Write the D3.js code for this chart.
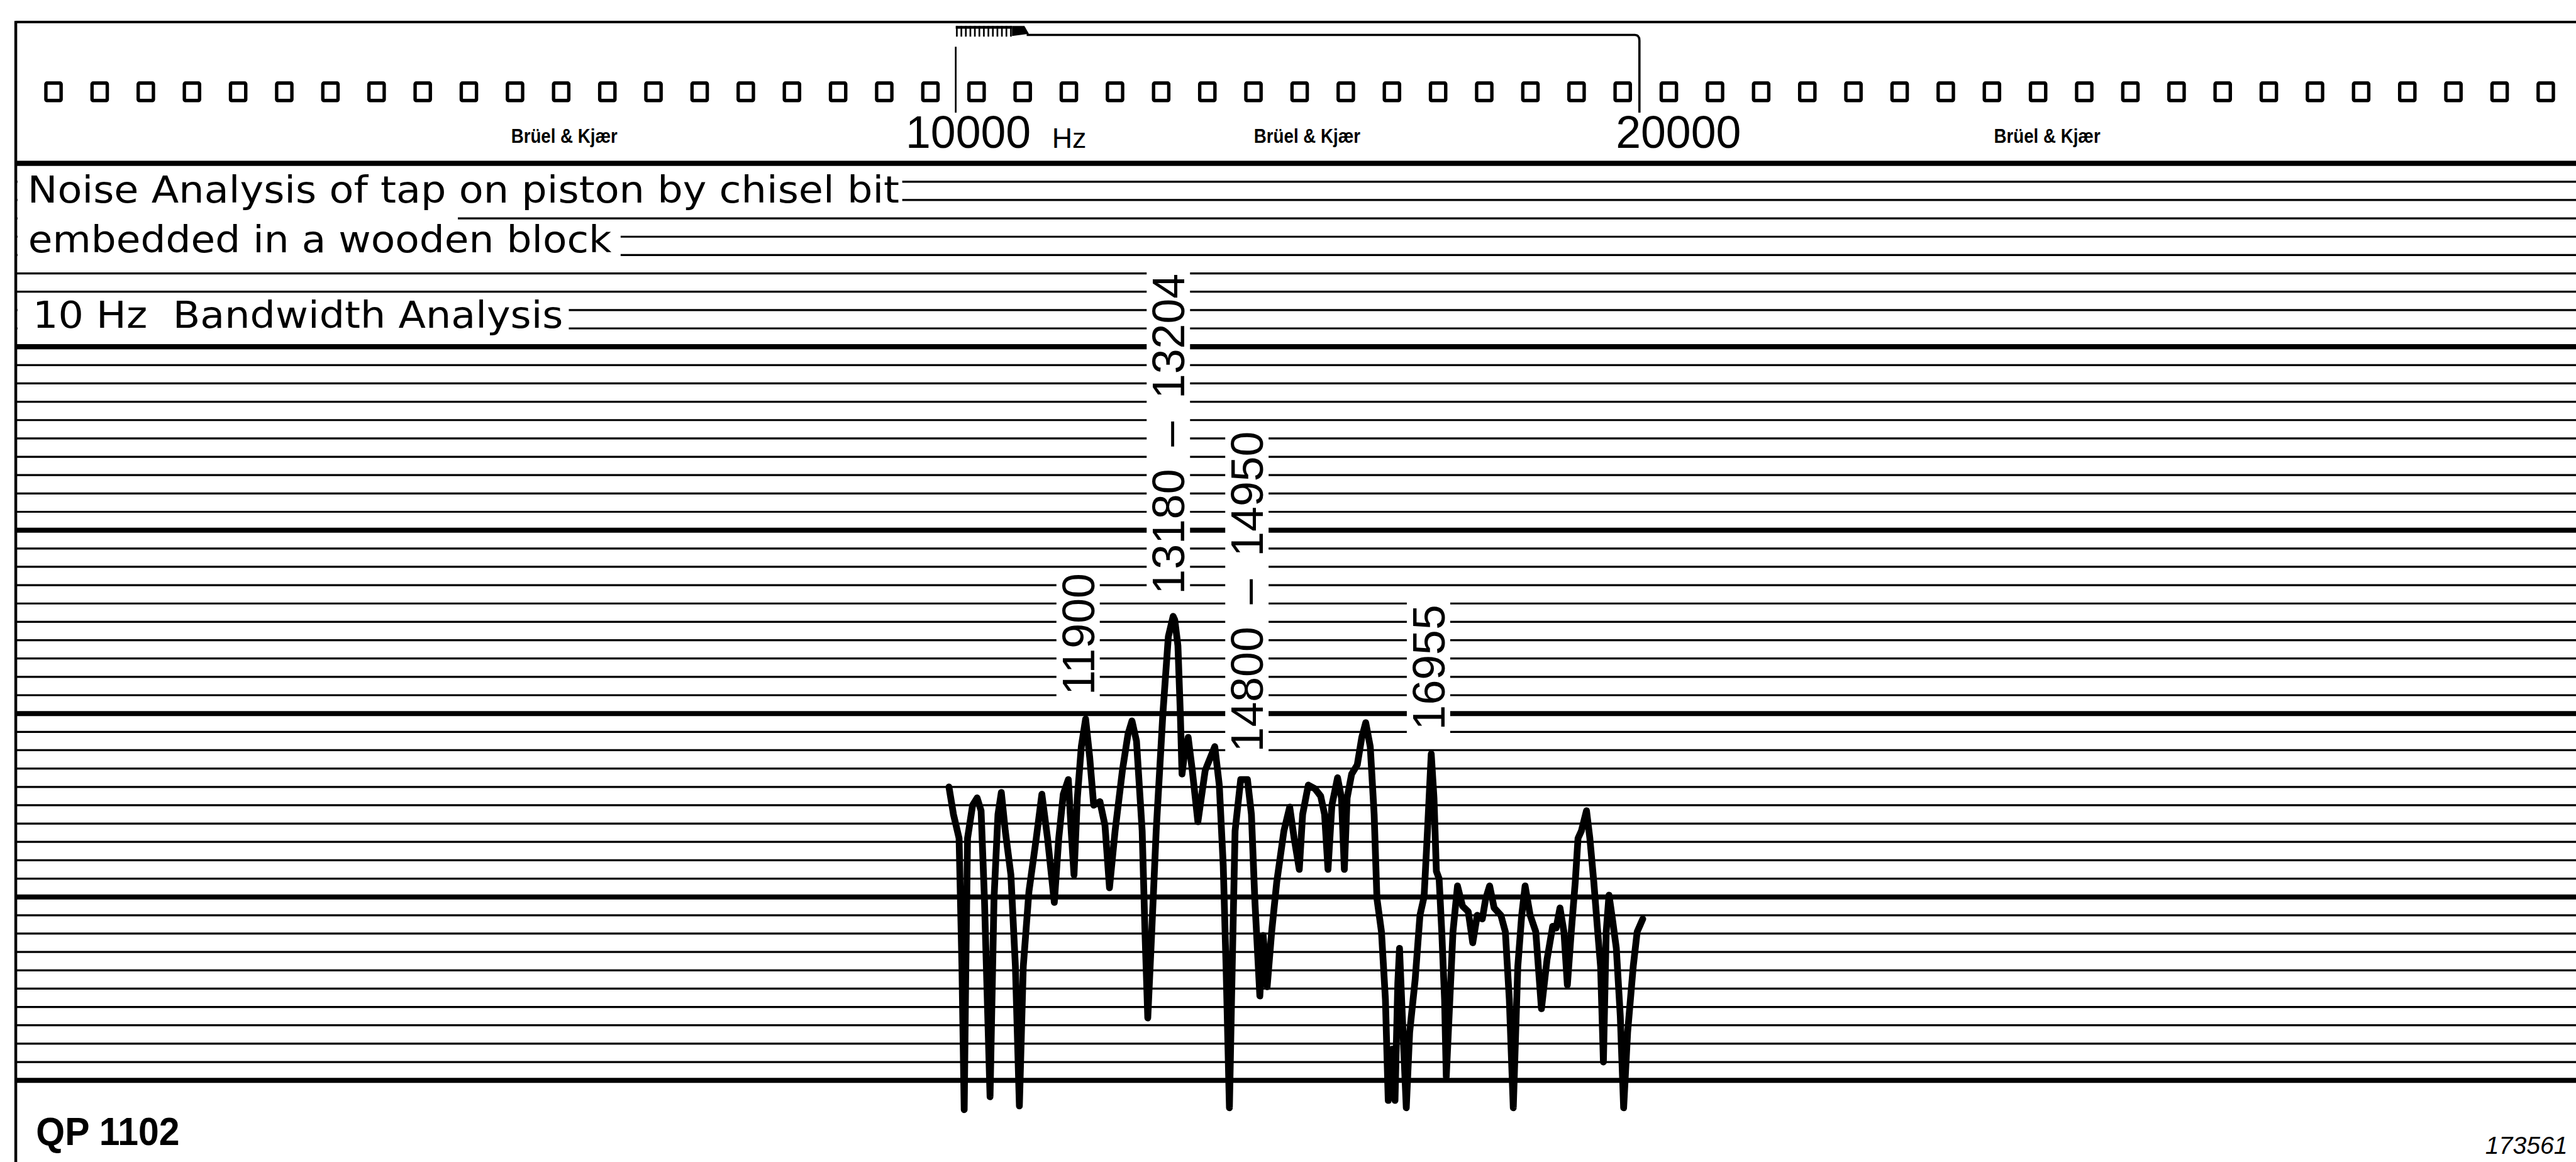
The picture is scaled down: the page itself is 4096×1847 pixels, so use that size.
<!DOCTYPE html>
<html>
<head>
<meta charset="utf-8">
<script src="https://cdn.jsdelivr.net/npm/d3@7"></script>
<style>
  html, body { margin: 0; padding: 0; background: #fff; overflow: hidden; }
  svg { display: block; }
</style>
</head>
<body>
<svg id="chart"></svg>
<script>
// Recorded spectrum: frequency (Hz) and level (dB above the bottom reference line)
const freqHz = [9901, 9967, 10049, 10091, 10124, 10148, 10173, 10247, 10313, 10371,
  10420, 10502, 10560, 10618, 10667, 10725, 10807, 10873, 10931, 10988,
  11071, 11178, 11260, 11343, 11442, 11507, 11573, 11647, 11689, 11730,
  11779, 11837, 11900, 11960, 12018, 12109, 12183, 12249, 12331, 12438,
  12521, 12578, 12644, 12727, 12768, 12809, 12867, 12932, 13030, 13110,
  13180, 13204, 13250, 13285, 13310, 13340, 13400, 13460, 13542, 13649,
  13789, 13855, 13913, 13954, 14003, 14044, 14086, 14168, 14267, 14325,
  14374, 14448, 14497, 14555, 14621, 14695, 14800, 14885, 14950, 15025,
  15074, 15157, 15255, 15338, 15395, 15445, 15502, 15585, 15642, 15684,
  15725, 15791, 15873, 15939, 15997, 16063, 16120, 16161, 16227, 16285,
  16326, 16384, 16425, 16466, 16491, 16532, 16590, 16639, 16720, 16790,
  16850, 16900, 16955, 16995, 17030, 17070, 17109, 17150, 17175, 17216,
  17273, 17339, 17413, 17496, 17562, 17628, 17702, 17751, 17809, 17875,
  17974, 18039, 18097, 18155, 18221, 18278, 18328, 18402, 18484, 18567,
  18649, 18731, 18781, 18838, 18896, 18946, 19003, 19061, 19102, 19151,
  19226, 19275, 19333, 19390, 19432, 19473, 19514, 19555, 19605, 19662,
  19720, 19769, 19827, 19909, 19967, 20049];

const levelDb = [16.0, 14.5, 13.2, 6.2, -1.6, 6.2, 13.2, 15.0, 15.4, 14.7,
  9.9, -0.9, 9.9, 14.5, 15.7, 13.6, 11.2, 6.2, -1.4, 6.2,
  10.3, 13.2, 15.6, 13.2, 9.7, 13.2, 15.6, 16.4, 13.6, 11.2,
  15.4, 18.2, 19.7, 17.6, 15.0, 15.2, 13.9, 10.5, 13.6, 16.9,
  18.9, 19.6, 18.5, 13.6, 8.1, 3.4, 8.1, 13.6, 20.0, 24.2,
  25.3, 25.1, 23.7, 20.0, 16.7, 17.6, 18.7, 16.9, 14.1, 16.9,
  18.2, 16.1, 11.7, 6.2, -1.5, 6.2, 13.6, 16.4, 16.4, 14.5,
  9.9, 4.6, 7.9, 5.1, 8.1, 10.8, 13.6, 14.9, 13.2, 11.5,
  14.5, 16.1, 15.9, 15.5, 14.5, 11.5, 15.0, 16.5, 15.4, 11.5,
  15.4, 16.7, 17.2, 18.7, 19.5, 18.2, 14.5, 9.9, 8.1, 4.4,
  -1.1, 1.7, -1.1, 5.3, 7.2, 3.5, -1.5, 2.6, 5.5, 9.0,
  10.0, 13.6, 17.8, 15.4, 11.4, 11.0, 8.1, 4.4, 0.2, 3.5,
  8.1, 10.6, 9.5, 9.2, 7.5, 9.0, 8.8, 9.9, 10.6, 9.4,
  9.0, 8.1, 4.4, -1.5, 6.2, 9.0, 10.6, 9.0, 8.1, 3.9,
  6.6, 8.4, 8.3, 9.4, 8.1, 5.2, 8.1, 10.8, 13.2, 13.6,
  14.7, 13.2, 10.8, 8.1, 6.2, 1.0, 8.1, 10.1, 8.8, 7.2,
  3.5, -1.5, 2.6, 6.2, 8.1, 8.8];

// Chart-paper level lines (1 dB apart, heavy every 10 dB)
const gridLevels = d3.range(0, 51);

// Frequency scale marks printed in the header
const tickFreqs = [10000, 20000];
const tickLabels = ["10000", "20000"];
const unitLabel = "Hz";

// Hand-written notes
const titleLines = [
  "Noise Analysis of tap on piston by chisel bit",
  "embedded in a wooden block",
  "10 Hz  Bandwidth Analysis"
];

// Peak annotations: text, frequency the column sits at, level its foot sits at
const peakLabels = ["11900", "13180 – 13204", "14800 – 14950", "16955"];
const labelFreq = [11790, 13110, 14259, 16915];
const labelLevel = [21.0, 26.5, 17.9, 19.1];

const brandLabel = "Brüel & Kjær";
const paperCode = "QP 1102";
const serialNo = "173561";

// ---------------------------------------------------------------------------
const W = 4574, H = 2063;
const LEFT = 28;

const svg = d3.select("#chart")
  .attr("width", 4096).attr("height", 1847)
  .attr("viewBox", `0 0 ${W} ${H}`)
  .attr("preserveAspectRatio", "none");

svg.append("rect").attr("width", W).attr("height", H).attr("fill", "#fff");

const x = d3.scaleLinear().domain([10000, 20000]).range([1697, 2911]);
const y = d3.scaleLinear().domain([0, 50]).range([1918, 290]);

// Level lines
svg.append("g").selectAll("line").data(gridLevels).join("line")
  .attr("x1", LEFT).attr("x2", W)
  .attr("y1", d => y(d)).attr("y2", d => y(d))
  .attr("stroke", "#000")
  .attr("stroke-width", d => d % 10 === 0 ? 9 : 3.6);

// Top edge of the paper
svg.append("line").attr("x1", LEFT).attr("x2", W).attr("y1", 39).attr("y2", 39)
  .attr("stroke", "#000").attr("stroke-width", 4.5);

// Sprocket holes
const holePitch = 81.95, holeStart = 95;
svg.append("g").selectAll("rect").data(d3.range(0, 55)).join("rect")
  .attr("x", d => holeStart + d * holePitch - 13.5)
  .attr("y", 147.5)
  .attr("width", 27).attr("height", 31)
  .attr("rx", 2)
  .attr("fill", "#fff").attr("stroke", "#000").attr("stroke-width", 6);

// Brand imprint
[1002, 2321, 3635].forEach(cx => {
  svg.append("text")
    .attr("x", cx - 94.5).attr("y", 253)
    .attr("font-family", "'Liberation Sans', Arial, sans-serif")
    .attr("font-weight", "bold").attr("font-size", 35)
    .attr("textLength", 189).attr("lengthAdjust", "spacingAndGlyphs")
    .text(brandLabel);
});

// Frequency marks: comb marker, bracket and vertical ticks
const mk = svg.append("g").attr("stroke", "#000").attr("fill", "none");
const x10 = x(tickFreqs[0]), x20 = x(tickFreqs[1]);
mk.append("rect").attr("x", x10).attr("y", 46).attr("width", 100).attr("height", 5)
  .attr("fill", "#000").attr("stroke", "none");
d3.range(0, 13).forEach(i => {
  mk.append("line").attr("x1", x10 + 2 + i * 8).attr("x2", x10 + 2 + i * 8)
    .attr("y1", 46).attr("y2", 65).attr("stroke-width", 3);
});
mk.append("path")
  .attr("d", `M${x10 + 100},46 L${x10 + 122},46 L${x10 + 130},60 L${x10 + 100},64 Z`)
  .attr("fill", "#000").attr("stroke", "none");
mk.append("path")
  .attr("d", `M${x10 + 126},62 H${x20 - 8} Q${x20},62 ${x20},72 V200`)
  .attr("stroke-width", 4);
mk.append("line").attr("x1", x10).attr("x2", x10).attr("y1", 83).attr("y2", 200)
  .attr("stroke-width", 3);

const tickDx = [-89, -42];
tickFreqs.forEach((f, i) => {
  svg.append("text")
    .attr("x", x(f) + tickDx[i]).attr("y", 262)
    .attr("font-family", "'Liberation Sans', Arial, sans-serif")
    .attr("font-size", 80)
    .text(tickLabels[i]);
});
svg.append("text")
  .attr("x", x10 + 171).attr("y", 263)
  .attr("font-family", "'Liberation Sans', Arial, sans-serif")
  .attr("font-size", 50)
  .text(unitLabel);

// Paper cleared behind the hand-written notes
const knock = svg.append("g").attr("fill", "#fff");
[[LEFT + 3, 306, 1602, 372], [LEFT + 3, 378, 813, 397],
 [LEFT + 3, 402, 1102, 466], [LEFT + 3, 530, 1010, 598]].forEach(([x0, y0, x1, y1]) => {
  knock.append("rect").attr("x", x0).attr("y", y0).attr("width", x1 - x0).attr("height", y1 - y0);
});

const titleX = [49, 50, 58], titleY = [360, 448, 582], titleLen = [1548, 1036, 942];
titleLines.forEach((t, i) => {
  svg.append("text")
    .attr("x", titleX[i]).attr("y", titleY[i])
    .attr("font-family", "'DejaVu Sans', 'Liberation Sans', sans-serif")
    .attr("font-size", 66)
    .attr("textLength", titleLen[i]).attr("lengthAdjust", "spacingAndGlyphs")
    .style("white-space", "pre")
    .text(t);
});

// Vertical peak annotations
const capH = 57;
peakLabels.forEach((t, i) => {
  const g = svg.append("g")
    .attr("transform", `translate(${x(labelFreq[i]) + capH / 2},${y(labelLevel[i])}) rotate(-90)`);
  const bg = g.append("rect").attr("fill", "#fff");
  const txt = g.append("text")
    .attr("x", 0).attr("y", 0)
    .attr("font-family", "'Liberation Sans', Arial, sans-serif")
    .attr("font-size", 80)
    .text(t.replace(" – ", "\u2002–\u2002"));
  const len = txt.node().getComputedTextLength();
  bg.attr("x", -8).attr("y", -capH - 10).attr("width", len + 16).attr("height", capH + 20);
});

// Left edge of the paper
svg.append("line").attr("x1", LEFT).attr("x2", LEFT).attr("y1", 37).attr("y2", H)
  .attr("stroke", "#000").attr("stroke-width", 5);

// Recorded trace
const trace = d3.line()
  .x(d => x(d[0]))
  .y(d => y(d[1]))
  .curve(d3.curveLinear);
svg.append("path")
  .datum(d3.zip(freqHz, levelDb))
  .attr("d", trace)
  .attr("fill", "none")
  .attr("stroke", "#000")
  .attr("stroke-width", 12)
  .attr("stroke-linejoin", "round")
  .attr("stroke-linecap", "round");

// Footer
svg.append("text")
  .attr("x", 64).attr("y", 2033)
  .attr("font-family", "'Liberation Sans', Arial, sans-serif")
  .attr("font-weight", "bold").attr("font-size", 70)
  .attr("textLength", 255).attr("lengthAdjust", "spacingAndGlyphs")
  .text(paperCode);
svg.append("text")
  .attr("x", 4413).attr("y", 2048)
  .attr("font-family", "'Liberation Sans', Arial, sans-serif")
  .attr("font-style", "italic").attr("font-size", 43)
  .attr("textLength", 146).attr("lengthAdjust", "spacingAndGlyphs")
  .text(serialNo);
</script>
</body>
</html>
